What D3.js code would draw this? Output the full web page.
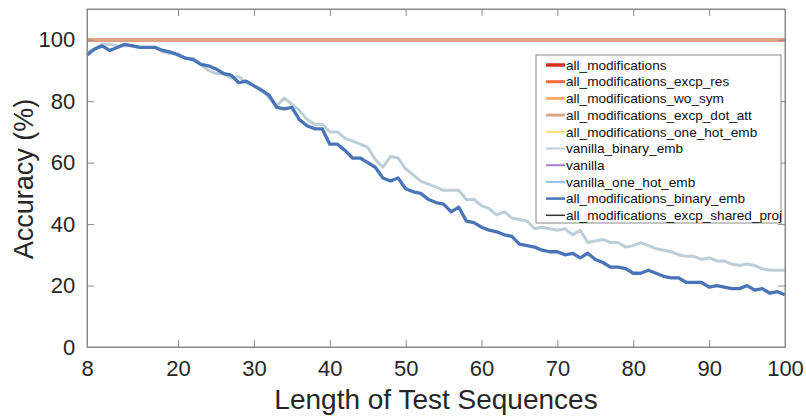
<!DOCTYPE html>
<html><head><meta charset="utf-8">
<script src="https://cdn.jsdelivr.net/npm/d3@7/dist/d3.min.js"></script>
<style>
html,body{margin:0;padding:0;background:#fff;}
text{font-family:"Liberation Sans",Arial,Helvetica,sans-serif;}
</style></head>
<body><svg id="c" width="806" height="416"></svg>
<script>
// Test sequence lengths 8..100
const lengths = d3.range(8, 101);

// all_modifications_binary_emb (dark blue)
const binaryEmbAcc = [
 95, 97, 98, 96.5, 97.5, 98.5, 98, 97.5, 97.5, 97.5,      // 8-17
 96.5, 96, 95, 94, 93.5, 92, 91.5, 90.5, 89, 88.5,        // 18-27
 86, 86.5, 85, 83.5, 82, 78, 77.5, 78, 74, 72,            // 28-37
 71, 71, 66, 66, 64, 61.5, 61.5, 60, 58.5, 55,            // 38-47
 54, 55, 51.5, 50.5, 50, 48, 47, 46.5, 44, 45.5,          // 48-57
 41, 40.5, 39, 38, 37.5, 36.5, 36, 33.5, 33, 32.5,        // 58-67
 31.5, 31, 31, 30, 30.5, 29, 30.5, 28.5, 27.5, 26,        // 68-77
 26, 25.5, 24, 24, 25, 24, 23, 22.5, 22.5, 21,            // 78-87
 21, 21, 19.5, 20, 19.5, 19, 19, 20, 18.5, 19,            // 88-97
 17.5, 18, 17                                             // 98-100
];

// vanilla_binary_emb (light grey-blue)
const vanillaBinaryAcc = [
 96, 97, 98.5, 98.5, 98, 98, 98, 97.5, 97.5, 97.5,        // 8-17
 96, 95.5, 95.5, 94, 94, 92, 90, 89, 89, 87.5,            // 18-27
 88, 86, 85, 84, 81, 78.5, 81, 79, 77, 74,                // 28-37
 72.5, 72.5, 70, 70, 68, 67, 66, 65, 61, 58.5,            // 38-47
 62, 61.5, 58, 56, 54, 53, 52, 51, 51, 51,                // 48-57
 48, 48, 46, 45, 43, 44, 42, 41.5, 41, 38.5,              // 58-67
 39, 38.5, 38, 38.5, 36.5, 38, 34, 34.5, 35, 34,          // 68-77
 34, 32.5, 33, 34, 33, 32, 31.5, 31, 30, 29.5,            // 78-87
 29.5, 28.5, 29, 28, 28, 27, 26.5, 27, 26.5, 25.5,        // 88-97
 25, 25, 25                                               // 98-100
];

// series that stay at 100% for every length
const saturatedAcc = [
 100,100,100,100,100,100,100,100,100,100,100,100,100,100,100,100,100,100,100,100,
 100,100,100,100,100,100,100,100,100,100,100,100,100,100,100,100,100,100,100,100,
 100,100,100,100,100,100,100,100,100,100,100,100,100,100,100,100,100,100,100,100,
 100,100,100,100,100,100,100,100,100,100,100,100,100,100,100,100,100,100,100,100,
 100,100,100,100,100,100,100,100,100,100,100,100,100
];

const seriesNames = ["all_modifications","all_modifications_excp_res","all_modifications_wo_sym",
 "all_modifications_excp_dot_att","all_modifications_one_hot_emb","vanilla_binary_emb","vanilla",
 "vanilla_one_hot_emb","all_modifications_binary_emb","all_modifications_excp_shared_proj"];
const seriesColors = ["#d7301f","#f26a3d","#fdae6b","#d9a688","#f3e56a","#bccfd8","#9d80d2",
 "#93c3ea","#4a74b8","#333333"];
const legendWidths = [3.5,3,3,3,2,2,2,2,2.5,1.5];

const xTicks = [8,20,30,40,50,60,70,80,90,100];
const yTicks = [0,20,40,60,80,100];

const seriesValues = {
 "all_modifications": saturatedAcc,
 "all_modifications_excp_res": saturatedAcc,
 "all_modifications_wo_sym": saturatedAcc,
 "all_modifications_excp_dot_att": saturatedAcc,
 "all_modifications_one_hot_emb": saturatedAcc,
 "vanilla_binary_emb": vanillaBinaryAcc,
 "vanilla": saturatedAcc,
 "vanilla_one_hot_emb": saturatedAcc,
 "all_modifications_binary_emb": binaryEmbAcc,
 "all_modifications_excp_shared_proj": saturatedAcc
};

const svg = d3.select("#c");
const L = 87, R = 785, T = 9, B = 347;
const x = d3.scaleLinear().domain([8,100]).range([L,R]);
const y = d3.scaleLinear().domain([0,110]).range([B,T]);
const axisCol = "#8a8a8a";

const drawOrder = ["all_modifications_excp_shared_proj","vanilla","vanilla_one_hot_emb",
 "all_modifications_one_hot_emb","all_modifications","all_modifications_excp_res",
 "all_modifications_wo_sym","all_modifications_excp_dot_att",
 "vanilla_binary_emb","all_modifications_binary_emb"];
const line = d3.line().x((d,i)=>x(lengths[i])).y(d=>y(d));
const g = svg.append("g");
drawOrder.forEach(name=>{
  const idx = seriesNames.indexOf(name);
  g.append("path").datum(seriesValues[name])
   .attr("d", line).attr("fill","none")
   .attr("stroke", seriesColors[idx])
   .attr("stroke-width", name==="all_modifications_binary_emb" ? 3.3 : 3)
   .attr("stroke-linejoin","round");
});

svg.append("rect").attr("x",L).attr("y",T).attr("width",R-L).attr("height",B-T)
  .attr("fill","none").attr("stroke",axisCol).attr("stroke-width",1);

const xAxis = d3.axisBottom(x).tickValues(xTicks).tickSize(-7).tickPadding(10).tickFormat(d3.format("d"));
const gx = svg.append("g").attr("transform",`translate(0,${B})`).call(xAxis);
const xAxisTop = d3.axisTop(x).tickValues(xTicks).tickSize(-7).tickFormat("");
const gxt = svg.append("g").attr("transform",`translate(0,${T})`).call(xAxisTop);
const yAxis = d3.axisLeft(y).tickValues(yTicks).tickSize(-7).tickPadding(14).tickFormat(d3.format("d"));
const gy = svg.append("g").attr("transform",`translate(${L},0)`).call(yAxis);
const yAxisR = d3.axisRight(y).tickValues(yTicks).tickSize(-7).tickFormat("");
const gyr = svg.append("g").attr("transform",`translate(${R},0)`).call(yAxisR);
[gx,gxt,gy,gyr].forEach(a=>{
  a.select(".domain").attr("stroke",axisCol);
  a.selectAll(".tick line").attr("stroke",axisCol);
  a.selectAll(".tick text").attr("fill","#262626").attr("font-size",22)
   .attr("font-family","'Liberation Sans',Arial,sans-serif");
});
gx.selectAll(".tick text").attr("dy","0.85em");
gy.selectAll(".tick text").attr("dx","0.1em");

svg.append("text").attr("x",(L+R)/2 - 0).attr("y",409).attr("text-anchor","middle")
  .attr("font-size",28).attr("fill","#262626").text("Length of Test Sequences");
svg.append("text").attr("transform",`translate(33,${(T+B)/2+1}) rotate(-90)`)
  .attr("text-anchor","middle").attr("font-size",27).attr("fill","#262626").text("Accuracy (%)");

const lgX = 536, lgY = 55, lgW = 245, lgH = 168;
const lg = svg.append("g");
lg.append("rect").attr("x",lgX).attr("y",lgY).attr("width",lgW).attr("height",lgH)
  .attr("fill","#fff").attr("stroke",axisCol).attr("stroke-width",1);
seriesNames.forEach((name,i)=>{
  const yy = lgY + 10 + i*16.7;
  lg.append("line").attr("x1",lgX+10).attr("x2",lgX+29).attr("y1",yy).attr("y2",yy)
    .attr("stroke",seriesColors[i]).attr("stroke-width",legendWidths[i]);
  lg.append("text").attr("x",lgX+30).attr("y",yy).attr("dy","0.35em")
    .attr("font-size",13.6).attr("fill","#111").text(name);
});
</script></body></html>
